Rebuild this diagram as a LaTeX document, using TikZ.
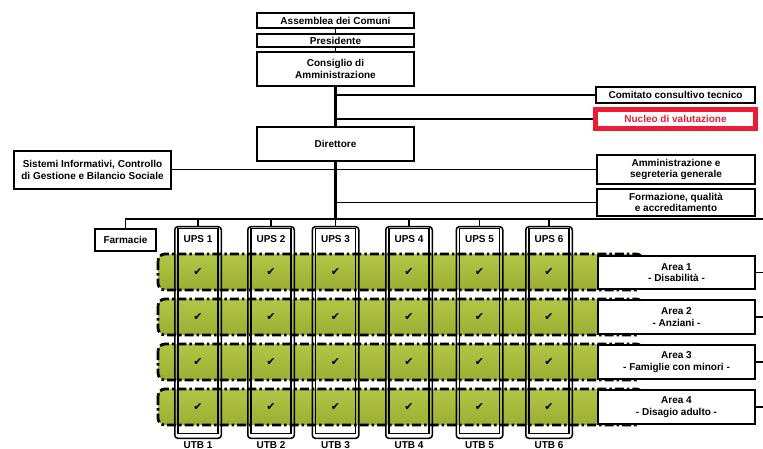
\documentclass[tikz,border=0pt]{standalone}
\usepackage{fontspec}
\setmainfont{Liberation Sans}
\newfontfamily\dejavu{DejaVu Sans}
\definecolor{gtop}{RGB}{178,198,70}
\definecolor{gmid}{RGB}{172,192,62}
\definecolor{gbot}{RGB}{156,174,50}
\definecolor{nred}{RGB}{236,28,52}
\begin{document}
\begin{tikzpicture}[x=1pt,y=-1pt,
  box/.style={draw, line width=1.9pt, fill=white, inner sep=0pt, align=center,
    font=\bfseries\fontsize{10}{11.5}\selectfont},
  conn/.style={line width=1.6pt},
  mainline/.style={line width=2.8pt},
  colouter/.style={draw, line width=1.5pt, rounded corners=3pt, inner sep=0pt},
  colinner/.style={line width=1.5pt},
  band/.style={top color=gtop, middle color=gmid, bottom color=gbot, rounded corners=7pt},
  bandline/.style={line width=2.8pt, rounded corners=7pt, dash pattern=on 9pt off 3pt on 2.5pt off 3pt},
  lab/.style={font=\bfseries\fontsize{10}{11.5}\selectfont, inner sep=0pt},
  tick/.style={font=\dejavu\fontsize{11}{11}\selectfont, inner sep=0pt}]
\useasboundingbox (0,0) rectangle (763,449);

% top chain
\node[box, minimum width=157.5pt, minimum height=15.5pt] (ass) at (335.5,20.5) {Assemblea dei Comuni};
\node[box, minimum width=157.5pt, minimum height=13.5pt] (pres) at (335.5,40.5) {Presidente};
\node[box, minimum width=157.5pt, minimum height=34.5pt] (cons) at (335.5,69) {Consiglio di\\Amministrazione};
\node[box, minimum width=157.5pt, minimum height=34.5pt] (dir) at (335.5,144) {Direttore};

\node[box, minimum width=159.5pt, minimum height=16.5pt] (com) at (675.5,95) {Comitato consultivo tecnico};
\node[draw=nred, line width=5pt, fill=white, inner sep=0pt, minimum width=160pt, minimum height=19pt,
  text=nred, font=\bfseries\fontsize{10}{11.5}\selectfont] (nuc) at (675.5,119) {Nucleo di valutazione};

\node[box, minimum width=157.5pt, minimum height=37.5pt] (sis) at (92.5,170) {Sistemi Informativi, Controllo\\di Gestione e Bilancio Sociale};
\node[box, minimum width=158.5pt, minimum height=28.5pt] (amm) at (676,169.5) {Amministrazione e\\segreteria generale};
\node[box, minimum width=158.5pt, minimum height=27.5pt] (for) at (676,202.5) {Formazione, qualità\\e accreditamento};
\node[box, minimum width=61.5pt, minimum height=22.5pt] (farm) at (125.5,240) {Farmacie};

\coordinate (busL) at (125,219);
\coordinate (busR) at (766,219);

% bands fill
\foreach \t/\b in {254/290,299/335,344/380,389/425}{
  \shade[band] (158,\t) rectangle (643,\b);
}

% columns
\foreach \c/\n in {198/1,271/2,335.5/3,409/4,479.5/5,549/6}{
  \node[colouter, minimum width=46.5pt, minimum height=211.5pt] (col\n) at (\c,332.5) {};
  \draw[colinner] (\c-20,228.5) rectangle (\c+20,433.5);
  \node[lab] (ups\n) at (\c,239) {UPS \n};
  \node[lab, anchor=base] (utb\n) at (\c,448) {UTB \n};
  \draw[conn] (col\n.north |- busL) -- (col\n.north);
}

% band outlines
\foreach \t/\b in {254/290,299/335,344/380,389/425}{
  \draw[bandline] (158,\t) rectangle (643,\b);
}

% check marks
\foreach \c in {198,271,335.5,409,479.5,549}{
  \foreach \y in {272,317,362,407}{
    \node[tick] at (\c,\y) {✔};
  }
}

% areas
\node[box, minimum width=157.5pt, minimum height=33.5pt] (a1) at (676.5,272.5) {Area 1\\- Disabilità -};
\node[box, minimum width=157.5pt, minimum height=34.5pt] (a2) at (676.5,317) {Area 2\\- Anziani -};
\node[box, minimum width=157.5pt, minimum height=34.5pt] (a3) at (676.5,362) {Area 3\\- Famiglie con minori -};
\node[box, minimum width=157.5pt, minimum height=34.5pt] (a4) at (676.5,407) {Area 4\\- Disagio adulto -};

% connectors
\draw[conn] (ass.south) -- (pres.north);
\draw[conn] (pres.south) -- (cons.north);
\draw[mainline] (cons.south) -- (dir.north);
\draw[mainline] (dir.south) -- (dir.south |- busL);
\draw[conn] (cons.south |- com.west) -- (com.west);
\draw[conn] (cons.south |- nuc.west) -- (nuc.west);
\draw[conn] (sis.east |- amm.west) -- (amm.west);
\draw[conn] (dir.south |- for.west) -- (for.west);
\draw[line width=2pt] (busL) -- (busR);
\draw[conn] (farm.north) -- (farm.north |- busL);
\foreach \a in {a1,a2,a3,a4}{
  \draw[conn] (\a.east) -- (\a.east -| busR);
}
\end{tikzpicture}
\end{document}
